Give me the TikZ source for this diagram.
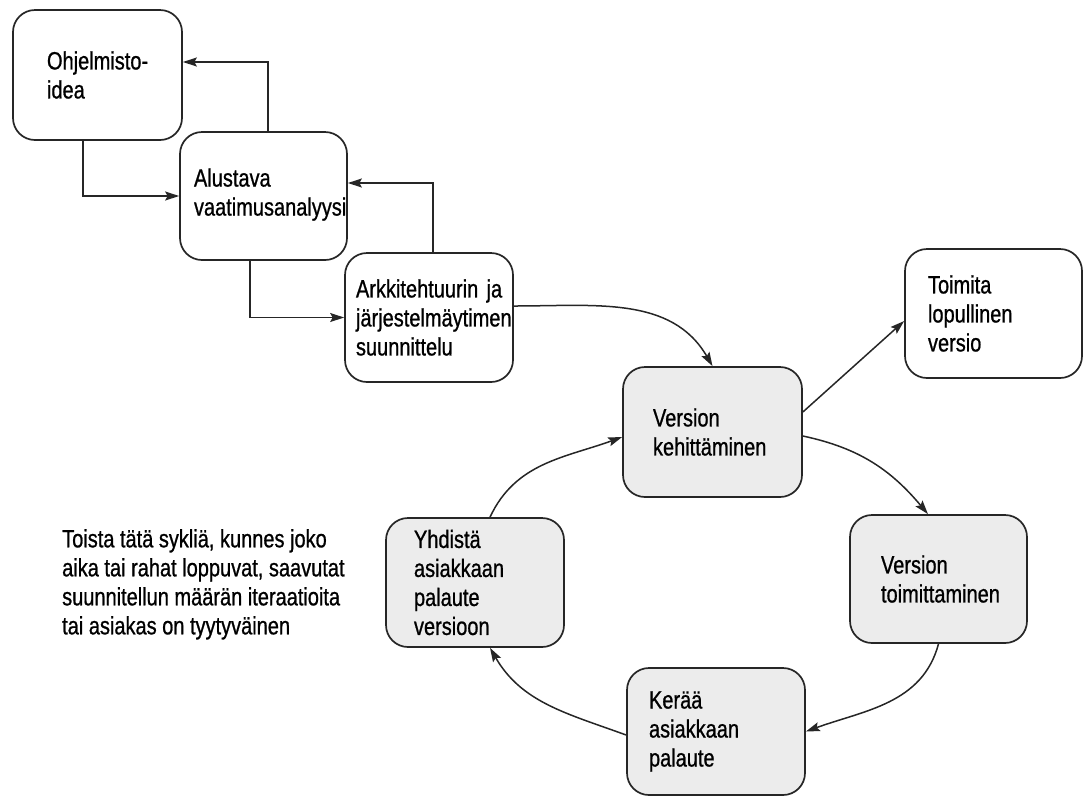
\documentclass[tikz,border=0pt]{standalone}
\usepackage{fontspec}
\setmainfont{Liberation Sans}[FakeStretch=0.8, FakeBold=0.8]
\usepackage{xcolor}
\usepackage{tikz}
\usetikzlibrary{arrows.meta, positioning, calc}

\begin{document}
\hyphenpenalty=10000
\exhyphenpenalty=10000
\begin{tikzpicture}[x=1pt, y=-1pt,
    vaihe/.style={draw=black!85, line width=1.7pt, rounded corners=22pt, align=left, inner ysep=0pt,
        font=\fontsize{25}{29}\selectfont},
    harmaa/.style={vaihe, fill=gray!15},
    nuoli/.style={-{Stealth[length=14pt, width=9pt, inset=2.5pt]}, line width=1.5pt, black!85}]
    \useasboundingbox (0,0) rectangle (1086,796);

    % Alkuvaiheet
    \node[vaihe, minimum width=169pt, minimum height=130pt, inner xsep=34pt, text width=101pt] (idea) at (97.5,75) {Ohjelmisto-\\idea};
    \node[vaihe, minimum width=167pt, minimum height=128pt, inner xsep=14pt, text width=139pt, text depth=37pt] (alustava) at (263.5,196) {Alustava\\vaatimusanalyysi};
    \node[vaihe, minimum width=168pt, minimum height=129pt, inner xsep=11pt, text width=146pt] (arkki) at (429,317.5) {Arkkitehtuurin~ja\\järjestelmäytimen\\suunnittelu};
    \node[vaihe, minimum width=177pt, minimum height=129pt, inner xsep=23pt, text width=131pt] (toimita) at (993.5,313.5) {Toimita\\lopullinen\\versio};

    % Iteraatiosykli
    \node[harmaa, minimum width=179pt, minimum height=130pt, inner xsep=30pt, text width=119pt] (kehitys) at (712.5,432) {Version\\kehittäminen};
    \node[harmaa, minimum width=177pt, minimum height=128pt, inner xsep=31pt, text width=115pt] (toimitus) at (938.5,579) {Version\\toimittaminen};
    \node[harmaa, minimum width=178pt, minimum height=127pt, inner xsep=22pt, text width=134pt] (keraa) at (716,731.5) {Kerää\\asiakkaan\\palaute};
    \node[harmaa, minimum width=178pt, minimum height=129pt, inner xsep=28pt, text width=122pt] (yhdista) at (475,582.5) {Yhdistä\\asiakkaan\\palaute\\versioon};

    \node[font=\fontsize{25}{29}\selectfont, align=left, inner sep=0pt, anchor=north west] (ohje) at (62,529)
        {Toista tätä sykliä, kunnes joko\\aika tai rahat loppuvat, saavutat\\suunnitellun määrän iteraatioita\\tai asiakas on tyytyväinen};

    % Vaiheiden nuolet
    \draw[nuoli] ([xshift=4.5pt]alustava.north) |- ([yshift=13pt]idea.east);
    \draw[nuoli] ([xshift=-14.5pt]idea.south) |- (alustava.west);
    \draw[nuoli] ([xshift=4pt]arkki.north) |- ([yshift=13pt]alustava.east);
    \draw[nuoli] ([xshift=-13.5pt]alustava.south) |- (arkki.west);
    \draw[nuoli] ([yshift=11.5pt]arkki.east) to[out=0, in=120] (kehitys.north);
    \draw[nuoli] ([yshift=20pt]kehitys.east) -- ([yshift=-7.5pt]toimita.west);

    % Syklin nuolet
    \draw[nuoli] ([yshift=-4pt]kehitys.east) to[out=-12, in=130] ([xshift=-10.5pt]toimitus.north);
    \draw[nuoli] (toimitus.south) to[out=-105, in=20] (keraa.east);
    \draw[nuoli] ([yshift=-3.5pt]keraa.west) to[out=160, in=-60] ([xshift=15pt]yhdista.south);
    \draw[nuoli] ([xshift=15pt]yhdista.north) to[out=65, in=-160] ([yshift=-5pt]kehitys.west);
\end{tikzpicture}
\end{document}
